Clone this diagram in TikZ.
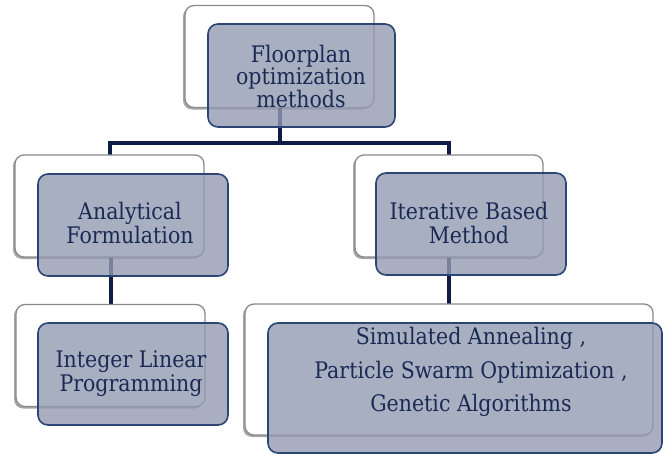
\documentclass[tikz,border=0pt]{standalone}
\usepackage{fontspec}
\setmainfont{DejaVu Serif}
\newfontfamily\boxfont[FakeStretch=0.9]{DejaVu Serif}
\usetikzlibrary{shadows,backgrounds}

\definecolor{navy}{HTML}{0E1D45}
\definecolor{boxedge}{HTML}{2C4574}
\definecolor{boxfill}{HTML}{939BB1}
\definecolor{ink}{HTML}{1B2A55}
\definecolor{backedge}{HTML}{8A8A8A}

\tikzset{
  backbox/.style={draw=backedge, line width=1.3pt, fill=white, rounded corners=9pt,
    inner sep=0pt, outer sep=0pt, minimum height=102pt,
    drop shadow={shadow xshift=-2pt, shadow yshift=-2pt, opacity=0.35, fill=black}},
  frontbox/.style={draw=boxedge, line width=1.6pt, fill=boxfill, fill opacity=0.8,
    draw opacity=1, rounded corners=10pt, inner sep=0pt, outer sep=0pt, minimum height=102pt},
  boxtext/.style={text=ink, align=center, inner sep=0pt,
    font=\boxfont\fontsize{22.8}{#1}\selectfont},
  boxtext/.default=23.5,
  link/.style={draw=navy, line width=4pt}
}

\begin{document}
\begin{tikzpicture}[x=1pt,y=-1pt]
\useasboundingbox (0,0) rectangle (665,455);

% back (white) cards
\node[backbox, minimum width=189pt] (topw) at (279.5,56.5) {};
\node[backbox, minimum width=189pt] (anaw) at (109.5,206) {};
\node[backbox, minimum width=188pt] (itew) at (449,206) {};
\node[backbox, minimum width=189pt] (ilpw) at (110.5,355.5) {};
\node[backbox, minimum width=408pt, minimum height=131pt] (heuw) at (449,369.5) {};

% front (tinted) cards
\node[frontbox, minimum width=187pt, minimum height=103pt] (topb) at (301.5,75.5) {};
\node[frontbox, minimum width=190pt] (anab) at (133,225) {};
\node[frontbox, minimum width=190pt] (iteb) at (471,224) {};
\node[frontbox, minimum width=190pt] (ilpb) at (133,374) {};
\node[frontbox, minimum width=394pt, minimum height=130pt] (heub) at (465,388) {};

% labels
\node[boxtext=22.5] (topt) at (301,76) {Floorplan\\optimization\\methods};
\node[boxtext] (anat) at (130,223) {Analytical\\Formulation};
\node[boxtext] (itet) at (469,223) {Iterative Based\\Method};
\node[boxtext=24] (ilpt) at (131,373.5) {Integer Linear\\Programming};
\node[boxtext=33.5] (heut) at (471,372) {Simulated Annealing ,\\Particle Swarm Optimization ,\\Genetic Algorithms};

% connectors behind the cards
\coordinate (bar) at (0,143);
\begin{scope}[on background layer]
  \draw[link] (topw.center) -- (topw.center |- bar) -| (anaw.center);
  \draw[link] (topw.center |- bar) -| (itew.center);
  \draw[link] (anaw.center) -- (ilpw.center |- anaw.center) -- (ilpw.center);
  \draw[link] (itew.center) -- (itew.center |- heuw.north);
\end{scope}
\end{tikzpicture}
\end{document}
